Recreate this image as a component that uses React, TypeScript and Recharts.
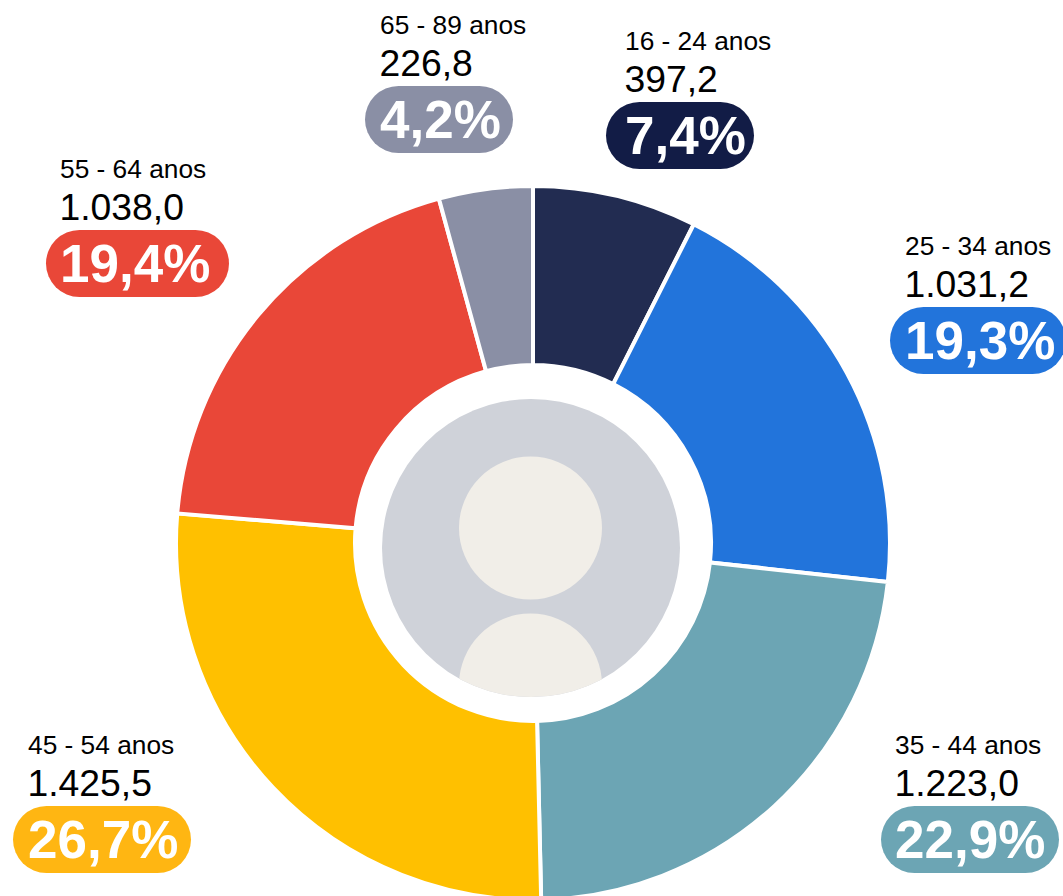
import React from "react";
import { PieChart, Pie, Cell } from "recharts";

const categories = ["16 - 24 anos", "25 - 34 anos", "35 - 44 anos", "45 - 54 anos", "55 - 64 anos", "65 - 89 anos"];
const values = [397.2, 1031.2, 1223.0, 1425.5, 1038.0, 226.8];
const valueLabels = ["397,2", "1.031,2", "1.223,0", "1.425,5", "1.038,0", "226,8"];
const shareLabels = ["7,4%", "19,3%", "22,9%", "26,7%", "19,4%", "4,2%"];
const sliceColors = ["#222C51", "#2274DB", "#6CA5B4", "#FFC000", "#E94738", "#8A8FA5"];
const pillColors = ["#121C46", "#2274DB", "#6CA5B4", "#FFB612", "#E94738", "#8A8FA5"];

const pillLayout = [
  { x: 606, y: 102, w: 148 },
  { x: 890, y: 307, w: 176 },
  { x: 881, y: 806, w: 178 },
  { x: 13, y: 806, w: 178 },
  { x: 46, y: 230, w: 183 },
  { x: 365, y: 86, w: 148 },
];
const textX = [625, 905, 895, 28, 60, 380];

const data = categories.map((name, i) => ({ name, value: values[i] }));
const FONT = "'Liberation Sans', Arial, sans-serif";

const renderLabel = (props: any) => {
  const i = props.index;
  const p = pillLayout[i];
  const tx = textX[i];
  return (
    <g key={i} fontFamily={FONT}>
      <text x={tx} y={p.y - 52} fontSize={26.3} fill="#000">{categories[i]}</text>
      <text x={tx - 0.5} y={p.y - 10} fontSize={37.3} fill="#000">{valueLabels[i]}</text>
      <rect x={p.x} y={p.y} width={p.w} height={67} rx={33.5} ry={33.5} fill={pillColors[i]} />
      <text x={tx} y={p.y + 52} fontSize={53} fontWeight={700} fill="#fff">
        {shareLabels[i]}
      </text>
    </g>
  );
};

export default function App() {
  return (
    <div style={{ position: "absolute", left: 0, top: 0, width: 1063, height: 896, overflow: "hidden", background: "#fff" }}>
      <PieChart width={1063} height={896} margin={{ top: 0, right: 0, bottom: 0, left: 0 }}>
        <defs>
          <clipPath id="avatarClip">
            <circle cx={531} cy={548} r={149} />
          </clipPath>
        </defs>
        <circle cx={531} cy={548} r={149} fill="#CFD2D9" />
        <circle cx={530.5} cy={528} r={71.5} fill="#F1EEE8" />
        <circle cx={530.5} cy={685} r={71.5} fill="#F1EEE8" clipPath="url(#avatarClip)" />
        <Pie
          data={data}
          dataKey="value"
          nameKey="name"
          cx={533}
          cy={543}
          innerRadius={178}
          outerRadius={357}
          startAngle={90}
          endAngle={-270}
          stroke="#fff"
          strokeWidth={4}
          isAnimationActive={false}
          labelLine={false}
          label={renderLabel}
        >
          {data.map((d, i) => (
            <Cell key={d.name} fill={sliceColors[i]} />
          ))}
        </Pie>
      </PieChart>
    </div>
  );
}
